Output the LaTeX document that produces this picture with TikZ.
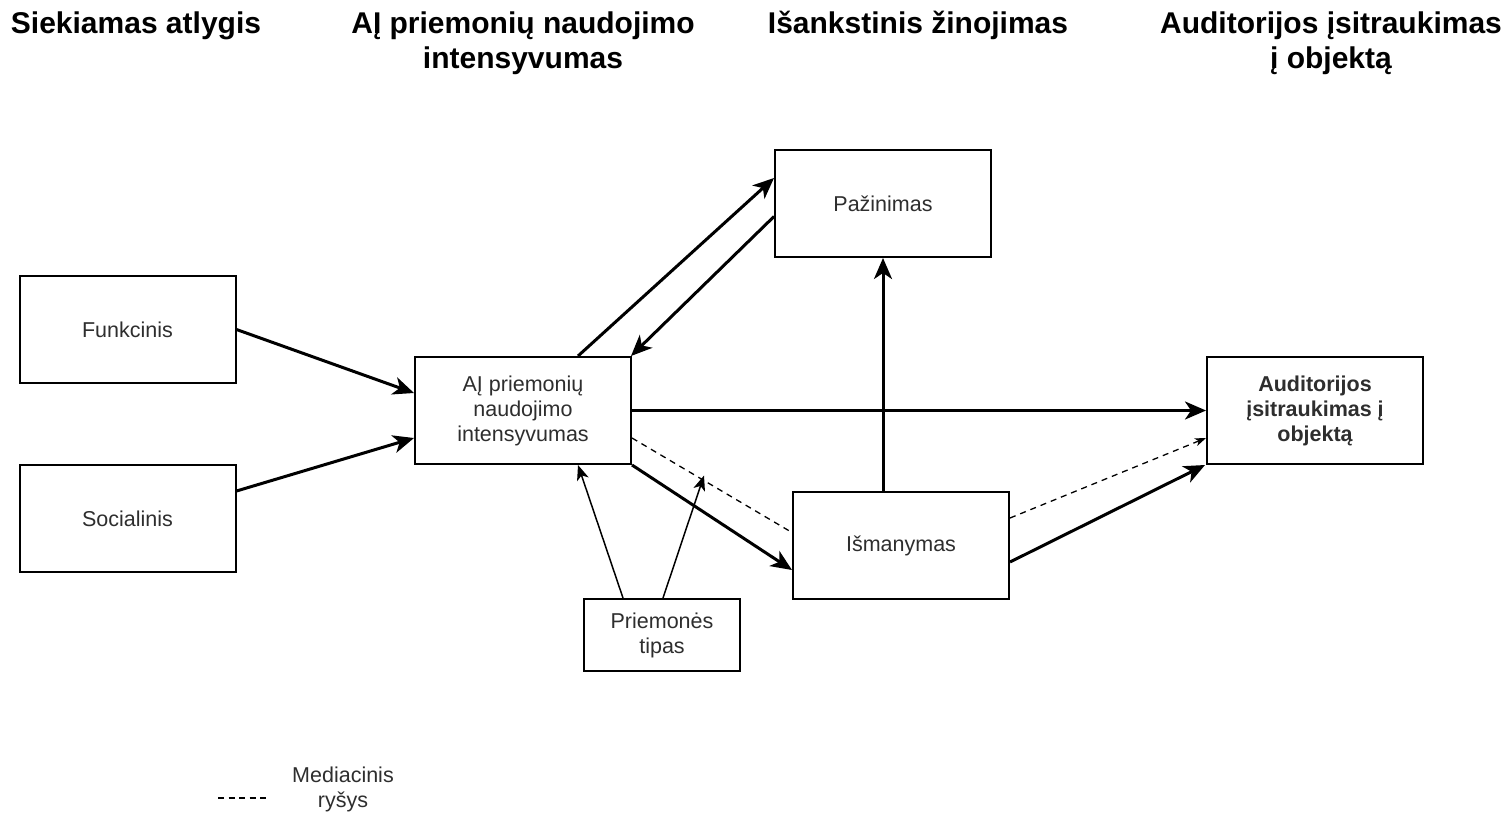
\documentclass[tikz,border=0pt]{standalone}
\usepackage{fontspec}
\setmainfont{Liberation Sans}
\usetikzlibrary{arrows.meta,calc}
\definecolor{boxtext}{HTML}{2E2E2E}
\tikzset{
  box/.style={draw=black, line width=2pt, minimum width=216pt, minimum height=107pt,
    inner sep=0pt, align=center, text=boxtext,
    font=\fontsize{21.5pt}{25pt}\selectfont},
  smallbox/.style={box, minimum width=156pt, minimum height=72pt},
  head/.style={align=center, font=\fontsize{30pt}{35pt}\selectfont\bfseries, inner sep=0pt},
  strong/.style={line width=3pt, -{Stealth[length=21pt, width=18pt, inset=6pt]}},
  weak/.style={line width=1.5pt, -{Stealth[length=15pt, width=12pt, inset=4pt]}},
  mediation/.style={line width=1.3pt, dash pattern=on 6pt off 5pt},
  legendtext/.style={align=center, text=boxtext, inner sep=0pt,
    font=\fontsize{21.5pt}{25pt}\selectfont},
}
\begin{document}
\begin{tikzpicture}[x=1pt, y=-1pt]
  \path[fill=white] (0,0) rectangle (1511,814);
  \useasboundingbox (0,0) rectangle (1511,814);

  % column headings
  \node[head] (h1) at (136,25.5) {Siekiamas atlygis};
  \node[head] (h2) at (523,43) {AĮ priemonių naudojimo\\intensyvumas};
  \node[head] (h3) at (918,25.5) {Išankstinis žinojimas};
  \node[head] (h4) at (1331,43) {Auditorijos įsitraukimas\\į objektą};

  % variables
  \node[box] (f)   at (127.5,329.5) {Funkcinis};
  \node[box] (s)   at (127.5,518.5) {Socialinis};
  \node[box] (ai)  at (523,410.5)   {AĮ priemonių\\naudojimo\\intensyvumas};
  \node[box] (paz) at (883,203.5)   {Pažinimas};
  \node[box] (ism) at (901,545.5)   {Išmanymas};
  \node[box, font=\fontsize{21.5pt}{25pt}\selectfont\bfseries] (aud) at (1315,410.5)
    {Auditorijos\\įsitraukimas į\\objektą};
  \node[smallbox] (pt) at (662,635) {Priemonės\\tipas};

  % direct effects
  \draw[strong] (f.east) -- ([yshift=17.5pt]ai.west);
  \draw[strong] ([yshift=27.5pt]s.east) -- ([yshift=-27.5pt]ai.west);
  \draw[strong] ([xshift=55pt]ai.north) -- ([yshift=25.5pt]paz.west);
  \draw[strong] ([yshift=-13pt]paz.west) -- ([xshift=-1pt]ai.north east);
  \draw[strong] (ai.east) -- (aud.west);
  \draw[strong] (ai.south east) -- ([yshift=-24.5pt]ism.west);
  \draw[strong] ([xshift=-18pt]ism.north) -- (paz.south);
  \draw[strong] ([yshift=-16.5pt]ism.east) -- ([xshift=-1pt]aud.south west);

  % mediation paths
  \draw[mediation] ([yshift=-27.5pt]ai.east) -- coordinate[pos=0.45] (mid) ([yshift=13pt]ism.west);
  \draw[mediation, -{Stealth[length=11pt, width=8pt, inset=3pt]}]
    ([yshift=27.5pt]ism.east) -- ([yshift=-27.5pt]aud.west);

  % moderator
  \draw[weak] ([xshift=-39pt]pt.north) -- ([xshift=55pt]ai.south);
  \draw[weak] ([xshift=1pt]pt.north) -- ([yshift=5pt]mid);

  % legend
  \coordinate (la) at (218,798);
  \coordinate (lb) at (266,798);
  \draw[line width=1.6pt, dash pattern=on 6pt off 4.5pt] (la) -- (lb);
  \node[legendtext] (lt) at (343,789.5) {Mediacinis\\ryšys};
\end{tikzpicture}
\end{document}
